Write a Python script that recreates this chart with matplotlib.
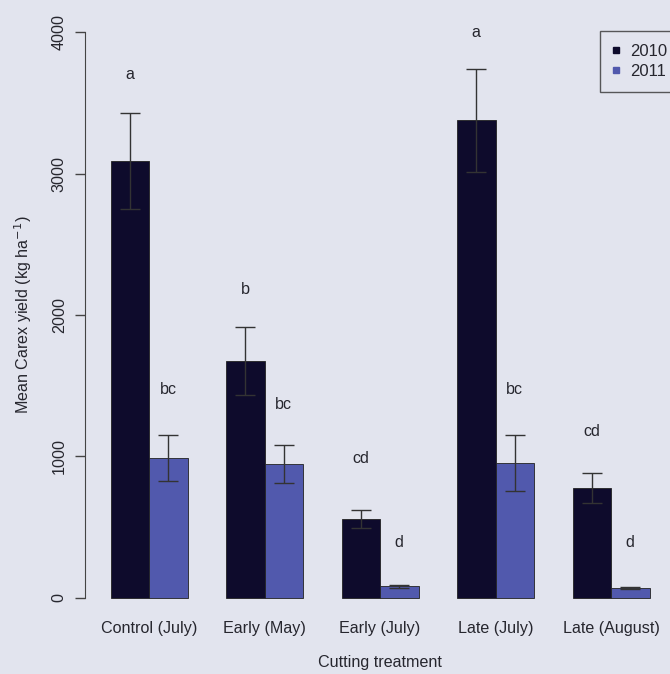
import numpy as np
import matplotlib
matplotlib.use("Agg")
import matplotlib.pyplot as plt
from matplotlib.lines import Line2D

plt.rcParams["font.family"] = ["Liberation Sans", "DejaVu Sans"]

# Data
treatments = ["Control (July)", "Early (May)", "Early (July)", "Late (July)", "Late (August)"]
years = ["2010", "2011"]
yield_2010 = [3090, 1675, 560, 3375, 778]
yield_2011 = [990, 945, 82, 955, 68]
se_2010 = [340, 240, 65, 365, 105]
se_2011 = [165, 135, 12, 200, 8]
letters_2010 = ["a", "b", "cd", "a", "cd"]
letters_2011 = ["bc", "bc", "d", "bc", "d"]
letter_y_2010 = [3700, 2180, 985, 4000, 1175]
letter_y_2011 = [1475, 1370, 390, 1470, 390]

bg = "#e2e4ee"
col_2010 = "#0e0b2c"
col_2011 = "#5159ad"
txt = "#26262e"
fs = 11.6

fig = plt.figure(figsize=(6.7, 6.74), dpi=100, facecolor=bg)
# axes placed in pixels: left 89, right 670, y from 620.6 (bottom) to 9.4 (top)
ax = fig.add_axes([89 / 670, (674 - 620.6) / 674, 581 / 670, 611.2 / 674])
ax.set_facecolor(bg)

n = len(treatments)
x1 = 1.5 + 3 * np.arange(n)
x2 = x1 + 1

ax.bar(x1, yield_2010, width=1, color=col_2010, edgecolor="#222222", linewidth=0.6)
ax.bar(x2, yield_2011, width=1, color=col_2011, edgecolor="#222222", linewidth=0.6)
ax.errorbar(x1, yield_2010, yerr=se_2010, fmt="none", ecolor="#333333",
            elinewidth=1, capsize=7.5, capthick=1)
ax.errorbar(x2, yield_2011, yerr=se_2011, fmt="none", ecolor="#333333",
            elinewidth=1, capsize=7.5, capthick=1)

for i in range(n):
    ax.text(x1[i], letter_y_2010[i], letters_2010[i], ha="center", va="center",
            fontsize=fs, color=txt)
    ax.text(x2[i], letter_y_2011[i], letters_2011[i], ha="center", va="center",
            fontsize=fs, color=txt)

ax.set_xlim(0.44, 0.44 + 581 / 38.5)
ax.set_ylim(-160, 4160)

for s in ["top", "right", "bottom"]:
    ax.spines[s].set_visible(False)
ax.spines["left"].set_bounds(0, 4000)
ax.spines["left"].set_color("#444444")
ax.spines["left"].set_position(("outward", 3))

ax.set_yticks([0, 1000, 2000, 3000, 4000])
ax.set_yticklabels(["0", "1000", "2000", "3000", "4000"], rotation=90, va="center",
                   fontsize=fs, color=txt)
ax.tick_params(axis="y", length=7, width=1, color="#444444", pad=6)

ax.set_xticks((x1 + x2) / 2)
ax.set_xticklabels(treatments, fontsize=fs, color=txt)
ax.tick_params(axis="x", length=0, pad=0)

ax.set_xlabel("Cutting treatment", fontsize=fs, color=txt)
ax.xaxis.label.set_va("center")
ax.xaxis.set_label_coords(0.5, -0.069)
ax.set_ylabel("Mean Carex yield (kg ha$^{-1}$)", fontsize=fs, color=txt, labelpad=13)

handles = [Line2D([], [], marker="s", linestyle="none", color=col_2010, markersize=5),
           Line2D([], [], marker="s", linestyle="none", color=col_2011, markersize=5)]
leg = fig.legend(handles, years, loc="upper left", bbox_to_anchor=(600 / 670, 1 - 31 / 674),
                 borderaxespad=0, frameon=True, fancybox=False, fontsize=12,
                 handletextpad=0.7, handlelength=0.3, borderpad=0.8,
                 labelspacing=0.27, labelcolor=txt)
leg.get_frame().set_facecolor(bg)
leg.get_frame().set_edgecolor("#333333")
leg.get_frame().set_linewidth(1)

fig.savefig("out.png", dpi=100, facecolor=bg)
